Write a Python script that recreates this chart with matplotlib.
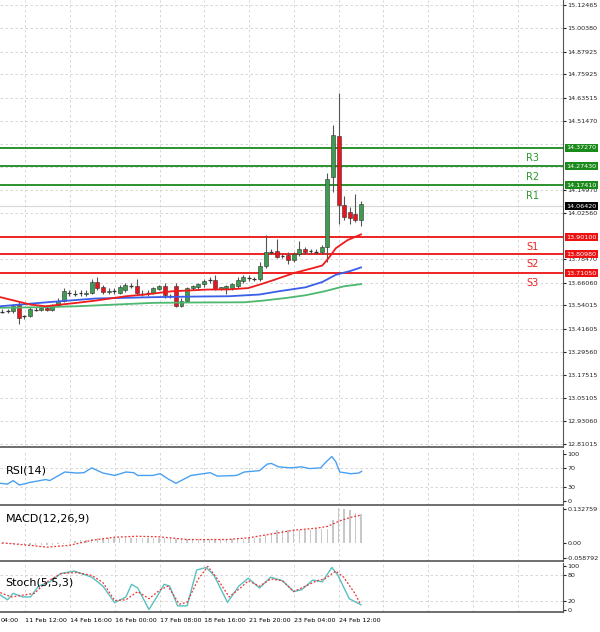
import matplotlib
matplotlib.use("Agg")
import matplotlib.pyplot as plt
import matplotlib.transforms as mtransforms
import numpy as np

# ---- candles (open, close, high, low) ----
opens = [13.510, 13.507, 13.510, 13.545, 13.479, 13.484, 13.516, 13.519, 13.528, 13.514,
         13.536, 13.563, 13.603, 13.606, 13.603, 13.599, 13.606, 13.664, 13.636, 13.612,
         13.618, 13.605, 13.624, 13.646, 13.643, 13.606, 13.601, 13.605, 13.625, 13.643,
         13.594, 13.641, 13.536, 13.563, 13.632, 13.636, 13.653, 13.671, 13.676, 13.629,
         13.632, 13.632, 13.641, 13.671, 13.690, 13.685, 13.681, 13.751, 13.821, 13.828,
         13.798, 13.807, 13.781, 13.810, 13.838, 13.824, 13.828, 13.824, 13.851, 14.217,
         14.436, 14.069, 14.031, 14.025, 13.990]
closes = [13.507, 13.510, 13.536, 13.475, 13.484, 13.524, 13.519, 13.528, 13.519, 13.536,
          13.566, 13.615, 13.606, 13.603, 13.606, 13.606, 13.664, 13.632, 13.612, 13.618,
          13.615, 13.636, 13.650, 13.643, 13.606, 13.601, 13.605, 13.632, 13.643, 13.594,
          13.591, 13.536, 13.563, 13.632, 13.641, 13.653, 13.671, 13.676, 13.629, 13.636,
          13.641, 13.653, 13.676, 13.690, 13.685, 13.681, 13.751, 13.821, 13.824, 13.798,
          13.803, 13.781, 13.810, 13.838, 13.824, 13.828, 13.824, 13.851, 14.205, 14.439,
          14.069, 14.008, 14.003, 13.990, 14.077]
highs = [13.52, 13.52, 13.55, 13.56, 13.49, 13.53, 13.53, 13.54, 13.54, 13.55,
         13.58, 13.63, 13.62, 13.62, 13.62, 13.62, 13.68, 13.69, 13.65, 13.63,
         13.63, 13.65, 13.66, 13.66, 13.68, 13.62, 13.62, 13.64, 13.65, 13.66,
         13.60, 13.66, 13.58, 13.64, 13.65, 13.66, 13.68, 13.69, 13.70, 13.64,
         13.65, 13.66, 13.69, 13.70, 13.70, 13.69, 13.77, 13.91, 13.84, 13.89,
         13.81, 13.82, 13.82, 13.88, 13.85, 13.84, 13.84, 13.86, 14.24, 14.49,
         14.66, 14.12, 14.06, 14.13, 14.09]
lows = [13.50, 13.50, 13.50, 13.44, 13.47, 13.48, 13.51, 13.51, 13.51, 13.51,
        13.53, 13.56, 13.59, 13.59, 13.59, 13.59, 13.60, 13.62, 13.60, 13.60,
        13.60, 13.60, 13.61, 13.63, 13.60, 13.59, 13.59, 13.60, 13.62, 13.58,
        13.58, 13.53, 13.53, 13.56, 13.62, 13.62, 13.64, 13.66, 13.62, 13.62,
        13.60, 13.62, 13.63, 13.66, 13.67, 13.67, 13.67, 13.74, 13.81, 13.79,
        13.79, 13.76, 13.77, 13.80, 13.81, 13.81, 13.81, 13.81, 13.77, 14.14,
        13.97, 13.99, 13.97, 13.98, 13.96]

# ---- moving averages read at sample positions (candle index, price) ----
ma_red_x = [-0.3, 5.1, 7.8, 10.5, 13.3, 16.7, 22.1, 25.5, 30.3, 36.4, 40.5, 43.9, 45.9,
            48.6, 52.0, 55.4, 57.1, 58.2, 59.5, 61.6, 64.0]
ma_red_y = [13.584, 13.545, 13.536, 13.545, 13.554, 13.566, 13.589, 13.598, 13.615, 13.624,
            13.625, 13.632, 13.650, 13.676, 13.711, 13.737, 13.751, 13.789, 13.842, 13.885, 13.915]
ma_blue_x = [-0.3, 5.1, 10.5, 16.7, 26.9, 33.7, 40.5, 45.9, 49.3, 54.1, 57.1, 59.5, 62.2, 64.0]
ma_blue_y = [13.536, 13.550, 13.563, 13.577, 13.584, 13.587, 13.589, 13.598, 13.615, 13.636,
             13.664, 13.702, 13.723, 13.741]
ma_green_x = [-0.3, 6.5, 13.3, 20.1, 26.9, 33.7, 43.2, 46.6, 50.7, 54.1, 57.5, 60.9, 64.0]
ma_green_y = [13.528, 13.531, 13.536, 13.545, 13.554, 13.556, 13.557, 13.566, 13.580, 13.594,
              13.615, 13.641, 13.653]

# ---- pivot levels ----
res_names = ["R1", "R2", "R3"]
res_levels = [14.1741, 14.2743, 14.3727]
sup_names = ["S1", "S2", "S3"]
sup_levels = [13.9010, 13.8098, 13.7105]
last_price = 14.0642

# tick labels visible on the price scale (the ones hidden behind level boxes left out)
price_ticks = [15.12465, 15.00380, 14.87925, 14.75925, 14.63515, 14.51470,
               14.14970, 14.02560, 13.78470, 13.66060, 13.54015, 13.41605, 13.29560,
               13.17515, 13.05105, 12.93060, 12.81015]
grid_prices = price_ticks + [14.39425, 14.26970, 13.90515]

# ---- RSI(14) ----
rsi_x = [-0.3, 1.0, 2.0, 3.1, 5.1, 7.8, 8.5, 11.2, 13.3, 14.6, 16.0, 18.0, 20.1, 22.1, 23.5,
         24.2, 26.9, 28.2, 29.6, 31.0, 33.7, 37.1, 38.4, 41.8, 43.2, 45.9, 47.3, 48.0, 49.3,
         51.4, 53.4, 54.8, 56.8, 57.8, 58.8, 59.5, 60.2, 62.2, 63.6, 64.1]
rsi_y = [37.7, 36.2, 43.5, 34.1, 39.9, 45.7, 43.5, 61.6, 59.4, 60.1, 70.3, 59.4, 54.3, 61.6, 60.1,
         54.3, 54.3, 58.0, 47.1, 37.7, 54.3, 60.1, 52.9, 54.3, 61.6, 64.5, 78.3, 79.7, 72.5,
         70.3, 72.5, 68.8, 70.3, 83.3, 94.2, 83.3, 61.6, 58.0, 59.4, 63.0]

# ---- MACD(12,26,9) ----
macd_hist = [-0.005, -0.005, -0.005, -0.005, -0.008, -0.008, -0.008, -0.008, -0.008, -0.008,
             -0.004, -0.004, 0.003, 0.008, 0.010, 0.012, 0.016, 0.020, 0.020, 0.021,
             0.021, 0.021, 0.021, 0.021, 0.021, 0.020, 0.020, 0.020, 0.020, 0.020,
             0.019, 0.016, 0.016, 0.016, 0.016, 0.017, 0.017, 0.017, 0.017, 0.017,
             0.017, 0.017, 0.017, 0.017, 0.020, 0.020, 0.020, 0.030, 0.040, 0.050,
             0.050, 0.050, 0.050, 0.050, 0.050, 0.052, 0.053, 0.054, 0.056, 0.090,
             0.137, 0.135, 0.130, 0.120, 0.115]
sig_x = [0, 5, 8, 12, 16, 20, 24, 28, 33, 40, 44, 48, 52, 56, 58, 60, 62, 64]
sig_y = [0.0, -0.010, -0.017, -0.010, 0.010, 0.022, 0.026, 0.024, 0.013, 0.013, 0.020, 0.035,
         0.050, 0.058, 0.065, 0.085, 0.100, 0.110]

# ---- Stoch(5,5,3) ----
st_x = [-0.3, 1.0, 2.0, 3.7, 5.1, 6.5, 8.5, 10.5, 12.9, 16.0, 18.0, 20.1, 22.1, 23.1, 24.2,
        26.2, 27.6, 28.9, 29.9, 31.3, 33.0, 34.7, 36.4, 37.8, 40.2, 42.2, 43.9, 45.9, 47.9,
        50.0, 52.0, 53.4, 55.4, 57.1, 58.8, 59.9, 61.9, 64.0]
st_y = [33.9, 23.4, 37.9, 29.8, 29.8, 54.0, 63.7, 82.3, 87.9, 74.2, 54.0, 16.9, 29.8, 58.1, 50.0,
        1.6, 29.8, 58.1, 54.0, 9.7, 9.7, 90.3, 96.0, 78.2, 17.7, 54.0, 71.8, 50.0, 74.2,
        66.1, 41.9, 46.0, 67.7, 63.7, 96.0, 78.2, 25.8, 12.1]
stsig_x = [-0.3, 1.7, 3.7, 5.8, 7.8, 10.5, 13.3, 16.0, 18.0, 20.1, 22.1, 24.2, 26.2, 28.2,
           29.6, 31.6, 33.0, 35.0, 36.7, 38.4, 40.5, 42.5, 43.9, 45.9, 47.9, 50.0, 52.0, 54.1,
           56.1, 57.5, 59.5, 60.9, 62.9, 63.9]
stsig_y = [39.5, 29.8, 33.9, 37.9, 62.1, 82.3, 84.7, 78.2, 62.1, 21.8, 23.4, 41.9, 25.8, 46.0,
           54.0, 13.7, 17.7, 70.2, 98.4, 70.2, 29.8, 50.0, 66.1, 54.0, 70.2, 66.1, 41.9, 54.0,
           66.1, 70.2, 87.9, 74.2, 37.9, 13.7]

date_pos = [-0.2, 4.1, 12.1, 20.1, 28.1, 36.1, 44.0, 52.0, 60.0]
date_labels = ["04:00", "11 Feb 12:00", "14 Feb 16:00", "16 Feb 00:00", "17 Feb 08:00",
               "18 Feb 16:00", "21 Feb 20:00", "23 Feb 04:00", "24 Feb 12:00"]
grid_x = [-3.9, 4.1, 12.1, 20.1, 28.1, 36.1, 44.0, 52.0, 60.0, 68.0, 76.0, 84.0, 92.0]

GREEN_UP = "#3c9c50"
RED_DN = "#e8141e"
XMAX = 100.0
fs = 4.6

fig = plt.figure(figsize=(6.0, 6.32), dpi=100)
H = 632.0
W = 600.0
axw = 563 / W


def mk(top, bot):
    return fig.add_axes([0, 1 - bot / H, axw, (bot - top) / H])


ax = mk(0, 447)
ax_rsi = mk(450, 505)
ax_macd = mk(507, 561)
ax_st = mk(563, 612)
axes = [ax, ax_rsi, ax_macd, ax_st]

for a in axes:
    a.set_xlim(-0.35, XMAX)
    a.yaxis.tick_right()
    a.tick_params(axis="y", labelsize=fs, length=2, pad=1.0, colors="#222222")
    a.tick_params(axis="x", length=0)
    a.set_xticks([])
    for gx in grid_x:
        a.axvline(gx, color="#d0d0d0", lw=0.6, ls=(0, (3, 3)), zorder=0)
    for s in ["left", "top"]:
        a.spines[s].set_visible(False)
    a.spines["bottom"].set_color("#555555")
    a.spines["right"].set_color("#555555")
    a.spines["bottom"].set_linewidth(1.2)

# ---- main price panel ----
ax.set_ylim(12.794, 15.151)
ax.set_yticks(price_ticks)
ax.set_yticklabels(["%.5f" % v for v in price_ticks])
for v in grid_prices:
    ax.axhline(v, color="#d0d0d0", lw=0.6, ls=(0, (3, 3)), zorder=0)

for i in range(len(opens)):
    o, c, h, l = opens[i], closes[i], highs[i], lows[i]
    ax.vlines(i, l, h, color="#555555", lw=0.8, zorder=3)
    if abs(c - o) < 0.006:
        ax.hlines(c, i - 0.35, i + 0.35, color="#333333", lw=0.9, zorder=4)
    else:
        col = GREEN_UP if c > o else RED_DN
        ax.bar(i, abs(c - o), bottom=min(o, c), width=0.7, color=col,
               edgecolor="#333333", lw=0.4, zorder=4)

ax.plot(ma_green_x, ma_green_y, color="#4cb870", lw=1.3, zorder=5)
ax.plot(ma_blue_x, ma_blue_y, color="#3a5ee8", lw=1.3, zorder=5)
ax.plot(ma_red_x, ma_red_y, color="#ee1c1c", lw=1.3, zorder=5)

trans = mtransforms.blended_transform_factory(ax.transAxes, ax.transData)
box = dict(boxstyle="square,pad=0.25", lw=0)
for name, lv in zip(res_names, res_levels):
    ax.axhline(lv, color="#1a8a1a", lw=1.3, zorder=2)
    ax.text(1.006, lv, "%.5f" % lv, transform=trans, fontsize=fs, color="white",
            va="center", ha="left", bbox=dict(box, fc="#1a8a1a"), clip_on=False, zorder=10)
    ax.text(94.5, lv - 0.055, name, fontsize=7, color="#2a9a2a", ha="center", va="center")
for name, lv in zip(sup_names, sup_levels):
    ax.axhline(lv, color="#ee1111", lw=1.3, zorder=2)
    ax.text(1.006, lv, "%.5f" % lv, transform=trans, fontsize=fs, color="white",
            va="center", ha="left", bbox=dict(box, fc="#ee1111"), clip_on=False, zorder=10)
    ax.text(94.5, lv - 0.05, name, fontsize=7, color="#ee2222", ha="center", va="center")
ax.axhline(last_price, color="#d8d8d8", lw=0.8, zorder=1)
ax.text(1.006, last_price, "%.5f" % last_price, transform=trans, fontsize=fs, color="white",
        va="center", ha="left", bbox=dict(box, fc="black"), clip_on=False, zorder=10)

# ---- RSI ----
ax_rsi.set_ylim(-8, 108)
ax_rsi.set_yticks([0, 30, 70, 100])
for v in [30, 70]:
    ax_rsi.axhline(v, color="#d0d0d0", lw=0.6, ls=(0, (3, 3)), zorder=0)
ax_rsi.plot(rsi_x, rsi_y, color="#4aa0f0", lw=1.0)
ax_rsi.text(0.01, 0.62, "RSI(14)", transform=ax_rsi.transAxes, fontsize=8, va="center")

# ---- MACD ----
ax_macd.set_ylim(-0.072, 0.142)
ax_macd.set_yticks([-0.058792, 0.0, 0.132759])
ax_macd.set_yticklabels(["-0.058792", "0.00", "0.132759"])
ax_macd.bar(range(len(macd_hist)), macd_hist, width=0.25, color="#c8c8c8", zorder=2)
ax_macd.plot(sig_x, sig_y, color="#ee3333", lw=0.9, ls=(0, (1.5, 1.5)), zorder=3)
ax_macd.text(0.01, 0.78, "MACD(12,26,9)", transform=ax_macd.transAxes, fontsize=8, va="center")

# ---- Stoch ----
ax_st.set_ylim(-4, 106)
ax_st.set_yticks([0, 20, 80, 100])
for v in [20, 80]:
    ax_st.axhline(v, color="#d0d0d0", lw=0.6, ls=(0, (3, 3)), zorder=0)
ax_st.plot(st_x, st_y, color="#5ac0c0", lw=1.0, zorder=3)
ax_st.plot(stsig_x, stsig_y, color="#ee3333", lw=0.9, ls=(0, (1.5, 1.5)), zorder=3)
ax_st.text(0.01, 0.6, "Stoch(5,5,3)", transform=ax_st.transAxes, fontsize=8, va="center")

# date labels (left aligned at the tick)
dtrans = mtransforms.blended_transform_factory(ax_st.transData, ax_st.transAxes)
for p, lab in zip(date_pos, date_labels):
    ax_st.text(p, -0.12, lab, transform=dtrans, fontsize=fs, ha="left", va="top",
               clip_on=False)

fig.savefig("out.png", dpi=100)
